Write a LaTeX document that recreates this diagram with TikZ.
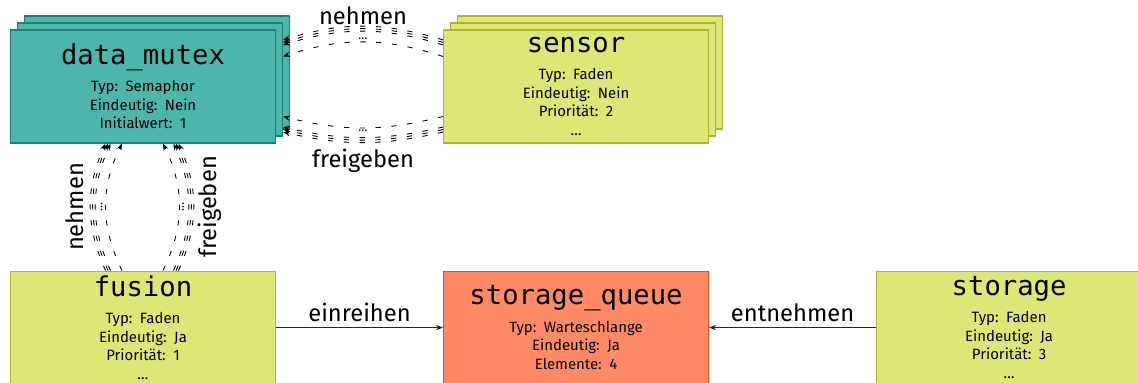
\documentclass[tikz,border=0pt]{standalone}
\usepackage{fontspec}
\setmainfont{Fira Sans}
\newfontfamily\titlefont{DejaVu Sans Mono}
\usetikzlibrary{positioning, arrows.meta, shadows}
\usepackage{xcolor}

\definecolor{mutexfill}{HTML}{4DB6AC}
\definecolor{mutexline}{HTML}{1F7F73}
\definecolor{threadfill}{HTML}{DCE775}
\definecolor{threadline}{HTML}{AFB42B}
\definecolor{queuefill}{HTML}{FF8A65}
\definecolor{queueline}{HTML}{E64A19}

\newcommand{\boxname}[1]{{\titlefont\fontsize{15.5}{18}\selectfont #1}\\[5pt]}

\begin{document}
\begin{tikzpicture}[node distance=3.34cm, font=\fontsize{8.5}{10.5}\selectfont]
\tikzstyle{block} = [rectangle, draw, line width=0.6pt, text width=5.3cm,
    align=center, minimum height=2.26cm, inner sep=0pt]
\tikzstyle{mutexbox} = [block, fill=mutexfill, draw=mutexline]
\tikzstyle{threadbox} = [block, fill=threadfill, draw=threadline]
\tikzstyle{queuebox} = [block, fill=queuefill, draw=queueline]
\tikzstyle{stack} = [copy shadow={shadow xshift=0.28cm, shadow yshift=0.28cm},
    copy shadow={shadow xshift=0.14cm, shadow yshift=0.14cm}]
\tikzstyle{line} = [draw, line width=0.5pt, black!85, -{Stealth[length=4pt, width=3pt]}]
\tikzstyle{wait} = [line, black, dash pattern=on 3pt off 6pt]
\tikzstyle{lbl} = [font=\fontsize{13.5}{16}\selectfont, text=black, inner sep=2pt]
\tikzstyle{more} = [font=\fontsize{7}{8}\selectfont, text=black, inner sep=0pt]

\useasboundingbox (0,0) rectangle (22.76,-7.66);

\node (mutex) [mutexbox, stack] at (2.86,-1.73)
    {\boxname{data\_mutex}Typ: Semaphor\\Eindeutig: Nein\\Initialwert: 1};
\node (sensor) [threadbox, stack, right=of mutex]
    {\boxname{sensor}Typ: Faden\\Eindeutig: Nein\\Priorität: 2\\…};
\node (fusion) [threadbox, below=2.54cm of mutex]
    {\boxname{fusion}Typ: Faden\\Eindeutig: Ja\\Priorität: 1\\…};
\node (queue) [queuebox, right=of fusion]
    {\boxname{storage\_queue}Typ: Warteschlange\\Eindeutig: Ja\\Elemente: 4};
\node (storage) [threadbox, right=of queue]
    {\boxname{storage}Typ: Faden\\Eindeutig: Ja\\Priorität: 3\\…};

\foreach \y in {-0.21,-0.26,-0.31}
    \path[wait] ([yshift=\y cm]sensor.north west) to[bend right=17]
        ([xshift=0.14cm, yshift=\y cm]mutex.north east);
\path[wait] ([yshift=-0.54cm]sensor.north west) to[bend right=18] node[more, above=1pt] {…}
    ([xshift=0.14cm, yshift=-0.54cm]mutex.north east);
\path ([yshift=-0.26cm]sensor.north west) to[bend right=17] node[lbl, above=0pt] {nehmen}
    ([xshift=0.14cm, yshift=-0.26cm]mutex.north east);

\foreach \y in {0.23,0.28,0.33}
    \path[wait] ([yshift=\y cm]sensor.south west) to[bend left=13]
        ([xshift=0.14cm, yshift=\y cm]mutex.south east);
\path[wait] ([yshift=0.54cm]sensor.south west) to[bend left=14] node[more, below=1pt] {…}
    ([xshift=0.14cm, yshift=0.54cm]mutex.south east);
\path ([yshift=0.28cm]sensor.south west) to[bend left=13] node[lbl, below=3pt] {freigeben}
    ([xshift=0.14cm, yshift=0.28cm]mutex.south east);

\foreach \x in {-0.65,-0.70,-0.75}
    \path[wait] ([xshift=\x cm]fusion.north) to[bend left=24] ([xshift=\x cm]mutex.south);
\path[wait] ([xshift=-0.42cm]fusion.north) to[bend left=26] node[more, sloped, above=1.5pt] {…}
    ([xshift=-0.42cm]mutex.south);
\path ([xshift=-0.70cm]fusion.north) to[bend left=24] node[lbl, sloped, above=3pt] {nehmen}
    ([xshift=-0.70cm]mutex.south);

\foreach \x in {0.61,0.66,0.71}
    \path[wait] ([xshift=\x cm]fusion.north) to[bend right=24] ([xshift=\x cm]mutex.south);
\path[wait] ([xshift=0.40cm]fusion.north) to[bend right=26] node[more, sloped, below=1.5pt] {…}
    ([xshift=0.40cm]mutex.south);
\path ([xshift=0.66cm]fusion.north) to[bend right=24] node[lbl, sloped, below=2pt] {freigeben}
    ([xshift=0.66cm]mutex.south);

\path[line] (fusion) -- node[lbl, above=1pt] {einreihen} (queue);
\path[line] (storage) -- node[lbl, above=1pt] {entnehmen} (queue);
\end{tikzpicture}
\end{document}
